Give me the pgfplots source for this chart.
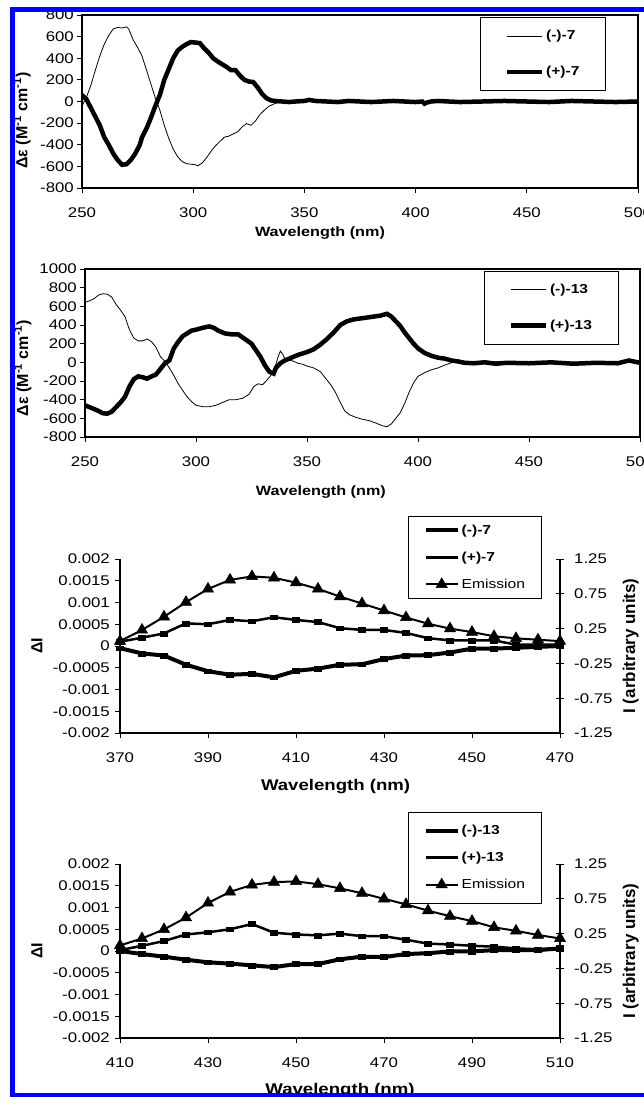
\documentclass[border=0pt]{standalone}
\usepackage{pgfplots}
\pgfplotsset{compat=1.18}
\usepackage{fontspec}
\setmainfont{Liberation Sans}[FakeStretch=1.2]
\newfontfamily\vfont{Liberation Sans}

% ---------- data ----------
\pgfplotstableread{
x y
250 -40
252 40
254 150
256 290
258 420
260 530
262 610
264 670
266 685
268 680
270 690
271 670
273 570
275 500
277 420
279 290
281 160
283 30
285 -80
287 -220
289 -340
291 -440
293 -510
295 -555
297 -575
299 -580
301 -585
302 -595
304 -570
306 -520
308 -460
310 -410
312 -370
314 -330
316 -320
318 -300
320 -280
322 -235
324 -205
326 -220
328 -180
330 -120
332 -80
334 -45
336 -25
338 -10
340 0
343 5
346 0
350 -5
353 15
356 0
360 -5
365 5
370 -5
375 0
380 5
385 -5
390 0
395 5
400 0
403 -5
404 -20
406 0
410 5
420 0
430 5
440 -5
450 0
460 5
470 -5
480 0
490 5
500 0
}\minusSeven
\pgfplotstableread{
x y
250 60
252 20
254 -60
256 -140
258 -220
260 -330
262 -400
264 -480
266 -540
268 -585
270 -580
272 -540
274 -480
276 -400
277 -330
279 -250
281 -150
283 -40
285 60
287 200
289 300
291 400
293 470
295 505
297 530
299 550
301 545
303 540
305 490
307 450
309 400
311 370
313 345
315 320
317 290
319 290
321 240
323 200
325 185
327 180
329 130
331 70
333 30
335 10
337 5
340 0
343 -5
346 0
350 5
352 15
355 5
360 0
365 -5
370 5
375 0
380 -5
385 0
390 5
395 0
400 -5
403 0
404 -20
405 -10
407 0
410 5
420 -5
430 0
440 5
450 0
460 -5
470 5
480 0
490 -5
500 0
}\plusSeven
\pgfplotstableread{
x y
250 640
252 660
254 680
256 720
258 735
260 730
262 700
264 620
266 560
268 490
270 350
272 260
274 230
276 230
278 250
280 220
282 160
284 60
286 10
288 -60
290 -140
292 -230
294 -300
296 -370
298 -420
300 -460
303 -475
306 -475
309 -460
312 -430
315 -400
318 -400
321 -385
324 -340
326 -260
328 -230
330 -240
332 -190
334 -130
336 -20
337 60
338 120
339 90
340 40
342 30
344 10
346 -10
348 -20
350 -40
353 -60
356 -100
359 -190
361 -250
363 -330
365 -430
367 -520
369 -560
372 -590
375 -610
378 -625
381 -650
384 -680
386 -690
388 -660
390 -600
392 -540
394 -440
396 -320
398 -220
400 -150
403 -110
406 -80
409 -60
412 -30
415 -5
418 10
422 10
426 0
430 15
435 5
440 10
445 0
450 10
455 0
460 5
470 0
480 5
490 0
500 5
}\minusThirteen
\pgfplotstableread{
x y
250 -460
252 -480
254 -500
256 -520
258 -545
260 -550
262 -530
264 -480
266 -430
268 -370
270 -260
272 -180
274 -150
276 -160
278 -175
280 -150
282 -130
284 -70
286 -10
288 20
290 150
292 220
294 280
296 310
298 340
300 350
303 370
306 385
308 370
310 340
313 310
316 300
319 300
322 250
325 200
327 130
329 60
331 -30
333 -100
335 -120
336 -60
338 -10
340 20
343 50
346 80
350 110
353 140
356 190
359 250
362 320
365 400
368 440
371 460
374 470
377 480
380 490
383 500
386 520
388 490
390 440
392 390
394 320
396 260
398 200
400 150
403 100
406 70
409 50
412 40
415 20
418 10
421 -5
425 -10
430 0
435 -15
440 -5
450 -10
460 0
470 -15
480 -5
490 -10
495 20
500 -5
}\plusThirteen
\pgfplotstableread{
x plus minus em
370 0.00010 -0.00005 0.07
375 0.00019 -0.00017 0.23
380 0.00029 -0.00022 0.42
385 0.00052 -0.00043 0.63
390 0.00050 -0.00058 0.82
395 0.00060 -0.00066 0.95
400 0.00057 -0.00064 1.00
405 0.00066 -0.00072 0.98
410 0.00060 -0.00057 0.91
415 0.00055 -0.00052 0.82
420 0.00041 -0.00043 0.71
425 0.00037 -0.00042 0.61
430 0.00037 -0.00030 0.51
435 0.00030 -0.00022 0.41
440 0.00018 -0.00021 0.32
445 0.00013 -0.00015 0.25
450 0.00013 -0.00006 0.20
455 0.00013 -0.00006 0.14
460 0.00003 -0.00004 0.11
465 0.00003 -0.00002 0.09
470 0.00003 0.00000 0.07
}\fluoSeven
\pgfplotstableread{
x plus minus em
410 0.00002 0.00000 0.08
415 0.00012 -0.00007 0.18
420 0.00023 -0.00013 0.31
425 0.00038 -0.00020 0.48
430 0.00043 -0.00026 0.69
435 0.00050 -0.00029 0.85
440 0.00062 -0.00033 0.95
445 0.00042 -0.00037 0.99
450 0.00038 -0.00030 1.00
455 0.00036 -0.00030 0.96
460 0.00040 -0.00019 0.90
465 0.00034 -0.00013 0.83
470 0.00034 -0.00014 0.75
475 0.00026 -0.00007 0.67
480 0.00017 -0.00005 0.58
485 0.00015 -0.00001 0.50
490 0.00012 -0.00001 0.43
495 0.00010 0.00002 0.34
500 0.00006 0.00002 0.29
505 0.00004 0.00002 0.23
510 0.00007 0.00006 0.18
}\fluoThirteen

\pgfplotsset{
  ticklab/.style={font=\fontsize{14}{14}\selectfont},
  cdaxis/.style={
    scale only axis, anchor=south west,
    xmin=250, xmax=500,
    xtick={250,300,350,400,450,500},
    xticklabels={250,300,350,400,450,500},
    axis line style={line width=2pt},
    tick style={black, line width=1pt},
    major tick length=5pt,
    tick align=outside,
    xtick pos=bottom, ytick pos=left,
    ticklabel style={ticklab},
    xticklabel style={anchor=north, inner sep=0pt, text height=10pt, text depth=0pt, yshift=-14pt},
    yticklabel style={anchor=east, inner sep=0pt, xshift=-3pt},
    xlabel style={font=\bfseries\fontsize{13.5}{13.5}\selectfont, anchor=center},
    ylabel style={font=\vfont\bfseries\fontsize{16}{16}\selectfont, anchor=center},
    legend style={draw=black, line width=1pt, fill=white,
      font=\bfseries\fontsize{13}{13}\selectfont,
      inner xsep=24pt, inner ysep=11pt, row sep=21pt, anchor=north west},
    legend cell align=left,
    legend image code/.code={\draw[##1] (0pt,0pt) -- (35pt,0pt);},
  },
  flaxis/.style={
    scale only axis, anchor=south west,
    width=440pt, height=174pt,
    ymin=-0.002, ymax=0.002,
    scaled y ticks=false,
    ytick={-0.002,-0.0015,-0.001,-0.0005,0,0.0005,0.001,0.0015,0.002},
    yticklabels={-0.002,-0.0015,-0.001,-0.0005,0,0.0005,0.001,0.0015,0.002},
    axis x line*=bottom, axis y line*=left,
    axis line style={-, line width=1.5pt},
    tick style={black, line width=1pt},
    major tick length=5pt,
    tick align=outside,
    ticklabel style={ticklab},
    xticklabel style={anchor=north, inner sep=0pt, text height=10pt, text depth=0pt, yshift=-14pt},
    yticklabel style={anchor=east, inner sep=0pt, xshift=-5pt},
    xlabel style={font=\bfseries\fontsize{15.5}{15.5}\selectfont, anchor=center},
    ylabel style={font=\vfont\bfseries\fontsize{16}{16}\selectfont, anchor=center},
  },
  flaxisR/.style={
    scale only axis, anchor=south west,
    width=440pt, height=174pt,
    ymin=-1.25, ymax=1.25,
    scaled y ticks=false,
    ytick={-1.25,-0.75,-0.25,0.25,0.75,1.25},
    yticklabels={-1.25,-0.75,-0.25,0.25,0.75,1.25},
    axis x line=none, axis y line*=right,
    axis line style={-, line width=1.5pt},
    tick style={black, line width=1pt},
    major tick length=8pt,
    tick align=center,
    ticklabel style={ticklab},
    yticklabel style={anchor=west, inner sep=0pt, xshift=10pt},
    ylabel style={font=\vfont\bfseries\fontsize{17}{17}\selectfont, anchor=center},
    legend style={draw=black, line width=1pt, fill=white,
      font=\bfseries\fontsize{13}{13}\selectfont,
      inner xsep=15pt, inner ysep=7pt, row sep=12pt, anchor=north west},
    legend cell align=left,
    legend image code/.code={\draw[##1] (0pt,0pt) -- (16pt,0pt) (16pt,0pt) -- (32pt,0pt); \path[##1, draw=none] plot coordinates {(16pt,0pt)};},
  },
  sqmark/.style={mark=square*, mark size=2.4pt, mark options={xscale=1.4, line width=0.5pt}},
  trimark/.style={mark=triangle*, mark size=6.5pt, mark options={line width=0.5pt}},
}

\begin{document}
\begin{tikzpicture}
\path[use as bounding box] (0pt,0pt) rectangle (643pt,-1097pt);

% ---------------- Panel 1 ----------------
\begin{axis}[cdaxis,
  at={(82pt,-188pt)}, width=556pt, height=173pt,
  ymin=-800, ymax=800,
  ytick={-800,-600,-400,-200,0,200,400,600,800},
  yticklabels={-800,-600,-400,-200,0,200,400,600,800},
  xlabel={Wavelength (nm)},
  xlabel style={at={(axis description cs:0.428,-0.26)}},
  ylabel={Δε (M\textsuperscript{-1} cm\textsuperscript{-1})},
  ylabel style={at={(axis description cs:-0.108,0.39)}},
  legend style={at={(axis description cs:0.716,0.988)}},
]
\addplot[black, line width=0.8pt] table[x=x,y=y] {\minusSeven};
\addlegendentry{(-)-7}
\addplot[black, line width=4.5pt] table[x=x,y=y] {\plusSeven};
\addlegendentry{(+)-7}
\end{axis}

% ---------------- Panel 2 ----------------
\begin{axis}[cdaxis,
  at={(85pt,-437pt)}, width=555pt, height=168pt,
  ymin=-800, ymax=1000,
  ytick={-800,-600,-400,-200,0,200,400,600,800,1000},
  yticklabels={-800,-600,-400,-200,0,200,400,600,800,1000},
  xlabel={Wavelength (nm)},
  xlabel style={at={(axis description cs:0.425,-0.33)}},
  ylabel={Δε (M\textsuperscript{-1} cm\textsuperscript{-1})},
  ylabel style={at={(axis description cs:-0.112,0.41)}},
  legend style={at={(axis description cs:0.719,0.99)}},
]
\addplot[black, line width=0.8pt] table[x=x,y=y] {\minusThirteen};
\addlegendentry{(-)-13}
\addplot[black, line width=4.5pt] table[x=x,y=y] {\plusThirteen};
\addlegendentry{(+)-13}
\end{axis}

% ---------------- Panel 3 ----------------
\begin{axis}[flaxis,
  at={(120pt,-733pt)},
  xmin=370, xmax=470,
  xtick={370,390,410,430,450,470},
  xticklabels={370,390,410,430,450,470},
  xlabel={Wavelength (nm)},
  xlabel style={at={(axis description cs:0.49,-0.31)}},
  ylabel={ΔI},
  ylabel style={at={(axis description cs:-0.189,0.5)}},
]
\addplot[black, line width=2.5pt, sqmark] table[x=x,y=plus] {\fluoSeven};
\addplot[black, line width=4pt, sqmark] table[x=x,y=minus] {\fluoSeven};
\end{axis}
\begin{axis}[flaxisR,
  at={(120pt,-733pt)},
  xmin=370, xmax=470,
  ylabel={I (arbitrary units)},
  ylabel style={at={(axis description cs:1.161,0.5)}, rotate=0},
  legend style={at={(axis description cs:0.655,1.25)}},
]
\addlegendimage{black, line width=4pt}
\addlegendentry{(-)-7}
\addlegendimage{black, line width=2.5pt}
\addlegendentry{(+)-7}
\addlegendimage{black, line width=2pt, trimark}
\addlegendentry{\mdseries Emission}
\addplot[black, line width=2pt, trimark] table[x=x,y=em] {\fluoSeven};
\end{axis}

% ---------------- Panel 4 ----------------
\begin{axis}[flaxis,
  at={(120pt,-1038pt)},
  xmin=410, xmax=510,
  xtick={410,430,450,470,490,510},
  xticklabels={410,430,450,470,490,510},
  xlabel={Wavelength (nm)},
  xlabel style={at={(axis description cs:0.5,-0.30)}},
  ylabel={ΔI},
  ylabel style={at={(axis description cs:-0.189,0.5)}},
]
\addplot[black, line width=2.5pt, sqmark] table[x=x,y=plus] {\fluoThirteen};
\addplot[black, line width=4pt, sqmark] table[x=x,y=minus] {\fluoThirteen};
\end{axis}
\begin{axis}[flaxisR,
  at={(120pt,-1038pt)},
  xmin=410, xmax=510,
  ylabel={I (arbitrary units)},
  ylabel style={at={(axis description cs:1.161,0.5)}, rotate=0},
  legend style={at={(axis description cs:0.655,1.30)}, inner ysep=11pt},
]
\addlegendimage{black, line width=4pt}
\addlegendentry{(-)-13}
\addlegendimage{black, line width=2.5pt}
\addlegendentry{(+)-13}
\addlegendimage{black, line width=2pt, trimark}
\addlegendentry{\mdseries Emission}
\addplot[black, line width=2pt, trimark] table[x=x,y=em] {\fluoThirteen};
\end{axis}

% blue frame
\draw[blue, line width=5pt] (660pt,-9.5pt) -- (12.5pt,-9.5pt) -- (12.5pt,-1095pt) -- (660pt,-1095pt);
\end{tikzpicture}
\end{document}
